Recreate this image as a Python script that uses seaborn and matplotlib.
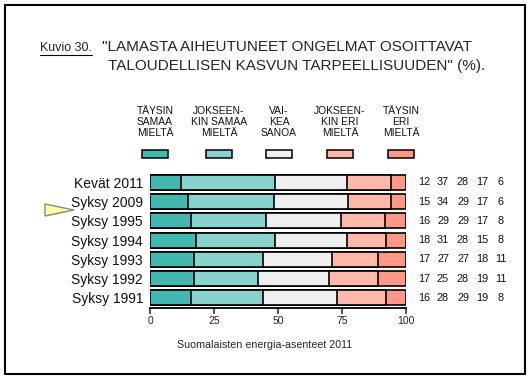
import numpy as np
import pandas as pd
import matplotlib.pyplot as plt
import seaborn as sns
from matplotlib.patches import Rectangle, Polygon
from matplotlib.lines import Line2D
from matplotlib.transforms import blended_transform_factory

# data
periods = ["Kevät 2011", "Syksy 2009", "Syksy 1995", "Syksy 1994",
           "Syksy 1993", "Syksy 1992", "Syksy 1991"]
taysin_samaa = [12, 15, 16, 18, 17, 17, 16]
jokseenkin_samaa = [37, 34, 29, 31, 27, 25, 28]
vaikea_sanoa = [28, 29, 29, 28, 27, 28, 29]
jokseenkin_eri = [17, 17, 17, 15, 18, 19, 19]
taysin_eri = [6, 6, 8, 8, 11, 11, 8]

categories = ["TÄYSIN\nSAMAA\nMIELTÄ", "JOKSEEN-\nKIN SAMAA\nMIELTÄ", "VAI-\nKEA\nSANOA",
              "JOKSEEN-\nKIN ERI\nMIELTÄ", "TÄYSIN\nERI\nMIELTÄ"]
colors = ["#43b8af", "#8ad2ce", "#efefef", "#ffb8aa", "#ff9886"]

df = pd.DataFrame({"period": periods, "c0": taysin_samaa, "c1": jokseenkin_samaa,
                   "c2": vaikea_sanoa, "c3": jokseenkin_eri, "c4": taysin_eri})
cols = ["c0", "c1", "c2", "c3", "c4"]
raw = df[cols].values.astype(float)
# bars are drawn to 100 %
pct = raw / raw.sum(axis=1, keepdims=True) * 100
cum = np.cumsum(pct, axis=1)

sns.set_style("white")
plt.rcParams['font.family'] = ['Liberation Sans', 'DejaVu Sans']

fig = plt.figure(figsize=(5.32, 3.81), dpi=100)
ax = fig.add_axes([150/532, 1 - 307.6/381, 256/532, 134.75/381])

# stacked bars: draw cumulative totals from the outermost inward
for i in range(4, -1, -1):
    sns.barplot(x=cum[:, i], y=df["period"], orient="h", color=colors[i],
                saturation=1, width=0.78, edgecolor="black", linewidth=1.2, ax=ax)

ax.set_xlim(0, 100)
ax.set_ylim(6.5, -0.5)
ax.set_xticks([0, 25, 50, 75, 100])
ax.tick_params(axis="x", direction="out", length=4, width=1.1, labelsize=7.5, pad=2, bottom=True)
ax.tick_params(axis="y", length=0, labelsize=10, pad=5)
ax.set_xlabel("")
ax.set_ylabel("")
for s in ["top", "right", "left"]:
    ax.spines[s].set_visible(False)
ax.spines["bottom"].set_linewidth(1.3)
ax.spines["bottom"].set_color("black")
for lbl in ax.get_yticklabels():
    lbl.set_color("#111111")

# values table on the right
trans = blended_transform_factory(fig.transFigure, ax.transData)
col_x = [424, 443, 463, 482, 501]
for r in range(len(periods)):
    for c in range(5):
        ax.text(col_x[c] / 532, r, str(int(raw[r, c])), fontsize=7.8,
                ha="center", va="center", transform=trans, color="#111111")

# legend
leg_x = [155, 219, 279, 340, 401]
for c in range(5):
    fig.text(leg_x[c] / 532, 1 - 106 / 381, categories[c], ha="center", va="top",
             fontsize=7.4, linespacing=1.12, color="#111111")
    fig.patches.append(Rectangle(((leg_x[c] - 13) / 532, 1 - 158 / 381), 26 / 532, 8 / 381,
                                 transform=fig.transFigure, facecolor=colors[c],
                                 edgecolor="black", linewidth=1.1))

# title
k = fig.text(40 / 532, 1 - 48 / 381, "Kuvio 30.", fontsize=9, ha="left", va="center")
fig.text(102 / 532, 1 - 47 / 381, "\"LAMASTA AIHEUTUNEET ONGELMAT OSOITTAVAT",
         fontsize=11, ha="left", va="center")
fig.text(108 / 532, 1 - 66 / 381, "TALOUDELLISEN KASVUN TARPEELLISUUDEN\" (%).",
         fontsize=11, ha="left", va="center")
fig.canvas.draw()
bb = k.get_window_extent().transformed(fig.transFigure.inverted())
fig.lines.append(Line2D([bb.x0, bb.x1], [bb.y0 - 0.002, bb.y0 - 0.002],
                        transform=fig.transFigure, color="black", linewidth=0.8))

# source
fig.text(265 / 532, 1 - 345 / 381, "Suomalaisten energia-asenteet 2011",
         fontsize=7.7, ha="center", va="center")

# marker arrow
fig.patches.append(Polygon([(45 / 532, 1 - 204 / 381), (45 / 532, 1 - 216 / 381),
                            (74 / 532, 1 - 210 / 381)], closed=True,
                           transform=fig.transFigure, facecolor="#ffffa8",
                           edgecolor="#888888", linewidth=1))

# frame
fig.patches.append(Rectangle((5 / 532, 1 - 374 / 381), 520 / 532, 369 / 381,
                             transform=fig.transFigure, fill=False,
                             edgecolor="black", linewidth=1.5))

fig.savefig("out.png", dpi=100)
